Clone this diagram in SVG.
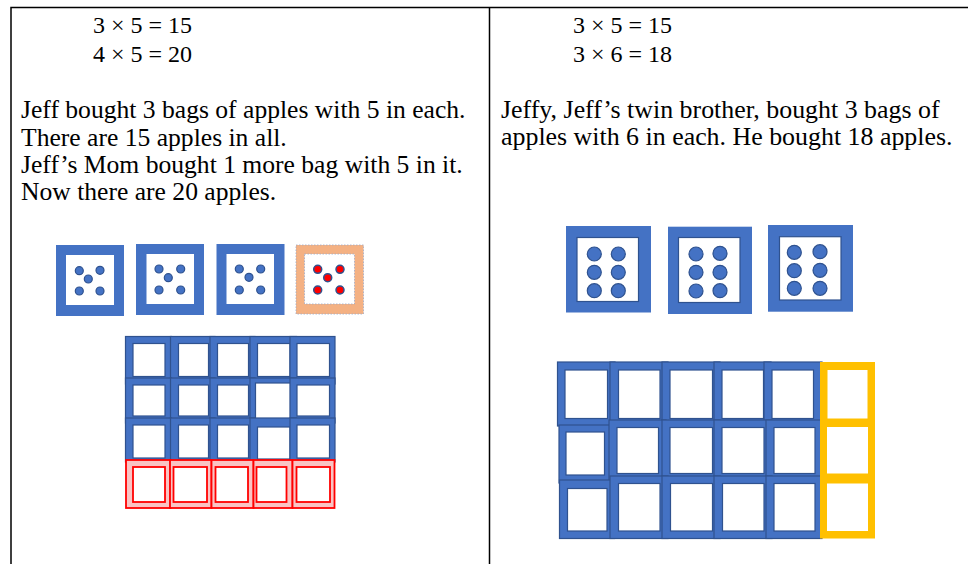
<svg xmlns="http://www.w3.org/2000/svg" width="968" height="564" viewBox="0 0 968 564">
<style>
.t{font-family:"Liberation Serif","Times New Roman",serif;font-size:25.6px;fill:#000}
.eq{font-family:"Liberation Serif","Times New Roman",serif;font-size:24px;fill:#000}
.bf{fill:#4472C4}
.fr{fill:#4472C4;stroke:#2F528F;stroke-width:1.2}
.wi{fill:#fff;stroke:#2F528F;stroke-width:1.2}
.w{fill:#fff}
.rf{fill:#F9C4C4;stroke:#FF0000;stroke-width:1.8}
.rw{fill:#fff;stroke:#FF0000;stroke-width:1.8}
.dot{fill:#4472C4;stroke:#2F528F;stroke-width:1.2}
.rdot{fill:#FF0000;stroke:#2F528F;stroke-width:1.5}
.ln{stroke:#000;stroke-width:1.5;fill:none}
</style>
<rect width="968" height="564" fill="#fff"/>
<g id="table">
<path class="ln" d="M11,564 V7.5 H968 M489.5,7.5 V564"/>
</g>
<g id="left-text">
<text class="eq" x="93" y="33">3 × 5 = 15</text>
<text class="eq" x="93" y="62">4 × 5 = 20</text>
<text class="t" x="21" y="118">Jeff bought 3 bags of apples with 5 in each.</text>
<text class="t" x="21" y="145.5">There are 15 apples in all.</text>
<text class="t" x="21" y="173">Jeff’s Mom bought 1 more bag with 5 in it.</text>
<text class="t" x="21" y="200">Now there are 20 apples.</text>
</g>
<g id="right-text">
<text class="eq" x="573" y="33">3 × 5 = 15</text>
<text class="eq" x="573" y="62">3 × 6 = 18</text>
<text class="t" x="501" y="117.5" style="font-size:25.9px">Jeffy, Jeff’s twin brother, bought 3 bags of</text>
<text class="t" x="501" y="145" style="font-size:25.9px">apples with 6 in each. He bought 18 apples.</text>
</g>
<g id="left-bags">
<g id="lbag1">
<rect class="bf" x="56" y="245" width="68" height="71"/>
<rect class="w" x="66" y="255" width="48" height="50"/>
<circle class="dot" cx="79.3" cy="270.7" r="4"/><circle class="dot" cx="100" cy="270.3" r="4"/><circle class="dot" cx="88.3" cy="279" r="4"/><circle class="dot" cx="79.3" cy="291" r="4"/><circle class="dot" cx="100" cy="291" r="4"/>
</g>
<g id="lbag2">
<rect class="bf" x="136" y="244" width="68" height="71"/>
<rect class="w" x="146.5" y="254" width="47.5" height="50"/>
<circle class="dot" cx="159" cy="269" r="4"/><circle class="dot" cx="180.7" cy="269" r="4"/><circle class="dot" cx="168.3" cy="277.7" r="4"/><circle class="dot" cx="159" cy="290" r="4"/><circle class="dot" cx="180.7" cy="290" r="4"/>
</g>
<g id="lbag3">
<rect class="bf" x="216.5" y="244" width="68" height="71"/>
<rect class="w" x="226.5" y="254" width="47.5" height="50"/>
<circle class="dot" cx="239.3" cy="269" r="4"/><circle class="dot" cx="260.7" cy="269" r="4"/><circle class="dot" cx="249" cy="277.3" r="4"/><circle class="dot" cx="239.3" cy="290" r="4"/><circle class="dot" cx="260.7" cy="290" r="4"/>
</g>
<g id="lbag4">
<rect x="296" y="245" width="67.5" height="69" fill="#F4B183" stroke="#9DA9C8" stroke-width="0.8" stroke-dasharray="1.5,1.5"/>
<rect x="304.5" y="254" width="50" height="50" fill="#fff" stroke="#9DA9C8" stroke-width="0.8" stroke-dasharray="1.5,1.5"/>
<circle class="rdot" cx="317.7" cy="269.3" r="4"/><circle class="rdot" cx="340" cy="269.3" r="4"/><circle class="rdot" cx="327.7" cy="277.7" r="4"/><circle class="rdot" cx="317.7" cy="290" r="4"/><circle class="rdot" cx="340" cy="290" r="4"/>
</g>
</g>
<g id="left-grid">
<g id="lrow1">
<rect class="fr" x="125.5" y="336.5" width="46" height="47.5"/><rect class="wi" x="133" y="343.5" width="32" height="33"/>
<rect class="fr" x="170.5" y="336.5" width="44.5" height="47.5"/><rect class="wi" x="178.5" y="343.5" width="30" height="33"/>
<rect class="fr" x="210" y="336.5" width="45" height="47.5"/><rect class="wi" x="217.5" y="343.5" width="31" height="33"/>
<rect class="fr" x="250" y="336.5" width="46.5" height="47.5"/><rect class="wi" x="257.5" y="343.5" width="32.5" height="33"/>
<rect class="fr" x="290" y="336.5" width="45" height="47.5"/><rect class="wi" x="297" y="343.5" width="32.5" height="33"/>
</g>
<g id="lrow2">
<rect class="fr" x="125.5" y="378" width="46" height="45"/><rect class="wi" x="133" y="385" width="32" height="31"/>
<rect class="fr" x="170.5" y="378" width="44.5" height="45"/><rect class="wi" x="178.5" y="385" width="30" height="31"/>
<rect class="fr" x="210" y="378" width="45" height="45"/><rect class="wi" x="217.5" y="385" width="31" height="31"/>
<rect class="fr" x="250" y="378" width="46.5" height="45"/><rect class="wi" x="255.5" y="383" width="35" height="37"/>
<rect class="fr" x="290" y="378" width="45" height="45"/><rect class="wi" x="297" y="385" width="32.5" height="31"/>
</g>
<g id="lrow3">
<rect class="fr" x="125.5" y="418" width="46" height="44"/><rect class="wi" x="133" y="425" width="32" height="33"/>
<rect class="fr" x="170.5" y="418" width="44.5" height="44"/><rect class="wi" x="178.5" y="425" width="30" height="33"/>
<rect class="fr" x="210" y="418" width="45" height="44"/><rect class="wi" x="217.5" y="425" width="31" height="33"/>
<rect class="fr" x="250" y="418" width="46.5" height="44"/><rect class="wi" x="257.5" y="427" width="32.5" height="32"/>
<rect class="fr" x="290" y="418" width="45" height="44"/><rect class="wi" x="297" y="425" width="32.5" height="33"/>
</g>
<g id="lrow4">
<rect class="rf" x="126" y="460" width="44.5" height="48"/><rect class="rw" x="133" y="467" width="32" height="35"/>
<rect class="rf" x="170" y="460" width="41.5" height="48"/><rect class="rw" x="173.5" y="467" width="33.5" height="35"/>
<rect class="rf" x="211.5" y="460" width="42" height="48"/><rect class="rw" x="215.5" y="467" width="32.5" height="35"/>
<rect class="rf" x="253.5" y="460" width="39" height="48"/><rect class="rw" x="256.5" y="467" width="30" height="35"/>
<rect class="rf" x="292.5" y="460" width="42" height="48"/><rect class="rw" x="296.5" y="467" width="33.5" height="35"/>
</g>
</g>
<g id="right-bags">
<g id="rbag1">
<rect class="bf" x="566" y="226" width="85" height="86.5"/>
<rect class="wi" x="577" y="237.5" width="61.5" height="64"/>
<circle class="dot" cx="594.3" cy="254" r="7"/><circle class="dot" cx="618.3" cy="254" r="7"/>
<circle class="dot" cx="594.3" cy="272.3" r="7"/><circle class="dot" cx="618.3" cy="272.3" r="7"/>
<circle class="dot" cx="594.3" cy="290.7" r="7"/><circle class="dot" cx="618.3" cy="290.7" r="7"/>
</g>
<g id="rbag2">
<rect class="bf" x="668" y="226.7" width="84" height="87.3"/>
<rect class="wi" x="678.5" y="237.5" width="61.5" height="65"/>
<circle class="dot" cx="696" cy="254" r="7"/><circle class="dot" cx="720" cy="253.3" r="7"/>
<circle class="dot" cx="696" cy="272.3" r="7"/><circle class="dot" cx="720" cy="272.3" r="7"/>
<circle class="dot" cx="696" cy="291" r="7"/><circle class="dot" cx="720" cy="290.7" r="7"/>
</g>
<g id="rbag3">
<rect class="bf" x="768" y="225" width="85" height="86.7"/>
<rect class="wi" x="779.5" y="236.7" width="61.5" height="63.3"/>
<circle class="dot" cx="794.3" cy="252.3" r="7"/><circle class="dot" cx="820" cy="251.7" r="7"/>
<circle class="dot" cx="794.3" cy="270.7" r="7"/><circle class="dot" cx="820" cy="270.3" r="7"/>
<circle class="dot" cx="794.3" cy="288.3" r="7"/><circle class="dot" cx="820" cy="288.3" r="7"/>
</g>
</g>
<g id="right-grid">
<g id="rrow1">
<rect class="fr" x="557.5" y="362" width="57.5" height="64"/><rect class="wi" x="565" y="370" width="42.5" height="48.5"/>
<rect class="fr" x="610" y="362" width="58" height="64"/><rect class="wi" x="618.5" y="370" width="41.5" height="48.5"/>
<rect class="fr" x="662" y="362" width="58" height="64"/><rect class="wi" x="670" y="370" width="42.5" height="48.5"/>
<rect class="fr" x="714" y="362" width="57" height="64"/><rect class="wi" x="722" y="370" width="41.5" height="48.5"/>
<rect class="fr" x="764" y="362" width="58" height="64"/><rect class="wi" x="772" y="370" width="41.5" height="48.5"/>
</g>
<g id="rrow2">
<rect class="fr" x="559" y="425" width="53" height="58"/><rect class="wi" x="566" y="432" width="38.5" height="43"/>
<rect class="fr" x="609" y="420" width="57" height="62"/><rect class="wi" x="617" y="427.5" width="41.5" height="46"/>
<rect class="fr" x="662" y="420" width="58" height="62"/><rect class="wi" x="670" y="427.5" width="42.5" height="46"/>
<rect class="fr" x="714" y="420" width="58" height="62"/><rect class="wi" x="722" y="427.5" width="42" height="46"/>
<rect class="fr" x="766" y="420" width="56" height="62"/><rect class="wi" x="774" y="427.5" width="41" height="46"/>
</g>
<g id="rrow3">
<rect class="fr" x="559.5" y="480" width="55" height="58.5"/><rect class="wi" x="567.5" y="488.5" width="39.5" height="42.5"/>
<rect class="fr" x="610" y="476" width="58" height="62.5"/><rect class="wi" x="618.5" y="483.5" width="41.5" height="47.5"/>
<rect class="fr" x="662" y="476" width="58" height="62.5"/><rect class="wi" x="670.5" y="483.5" width="42" height="47.5"/>
<rect class="fr" x="714" y="476" width="58" height="62.5"/><rect class="wi" x="722.5" y="483.5" width="41.5" height="47.5"/>
<rect class="fr" x="766" y="476" width="56" height="62.5"/><rect class="wi" x="774" y="483.5" width="41" height="47.5"/>
</g>
<g id="ycol">
<rect x="820" y="362" width="55" height="176.5" fill="#FFC000"/>
<rect class="w" x="827.5" y="370" width="40" height="48.5"/>
<rect class="w" x="827" y="427" width="41" height="46.5"/>
<rect class="w" x="827" y="483.5" width="41" height="47.5"/>
</g>
</g>
</svg>
